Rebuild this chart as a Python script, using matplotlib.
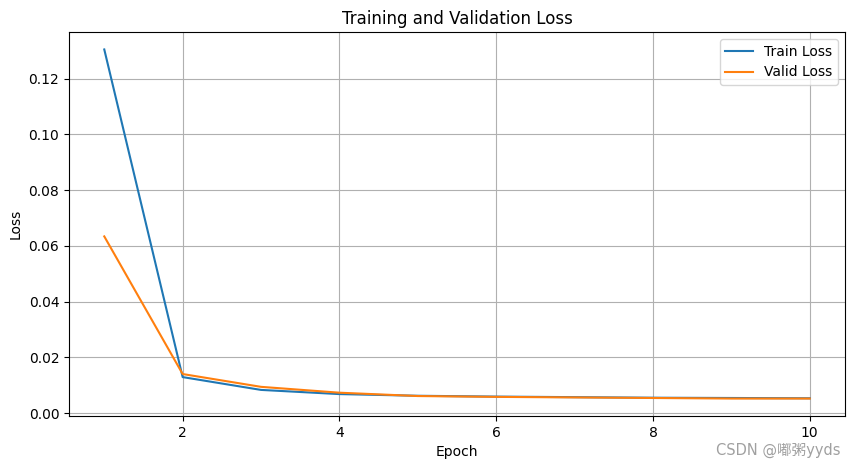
import matplotlib.pyplot as plt

# 数据
epochs = [1, 2, 3, 4, 5, 6, 7, 8, 9, 10]
train_loss = [0.1305, 0.0129, 0.0083, 0.0068, 0.0062, 0.0059, 0.0057, 0.0055, 0.0054, 0.0053]
valid_loss = [0.0634, 0.0140, 0.0094, 0.0073, 0.0061, 0.0058, 0.0056, 0.0054, 0.0052, 0.0052]

plt.rcParams['font.family'] = ['DejaVu Sans', 'Noto Sans CJK SC']

fig = plt.figure(figsize=(8.55, 4.7), dpi=100)
ax = fig.add_axes([69 / 855, 1 - 416 / 470, 776 / 855, 384 / 470])
ax.plot(epochs, train_loss, label="Train Loss")
ax.plot(epochs, valid_loss, label="Valid Loss")
ax.set_title("Training and Validation Loss")
ax.set_xlabel("Epoch")
ax.set_ylabel("Loss")
ax.legend(loc="upper right")
ax.grid(True)

# 水印
fig.text(0.983, 0.025, "CSDN @嘟粥yyds", ha="right", va="bottom", fontsize=10.5,
         color="#a0a0a0", family=['DejaVu Sans', 'Noto Sans CJK SC'])

fig.savefig("out.png")
